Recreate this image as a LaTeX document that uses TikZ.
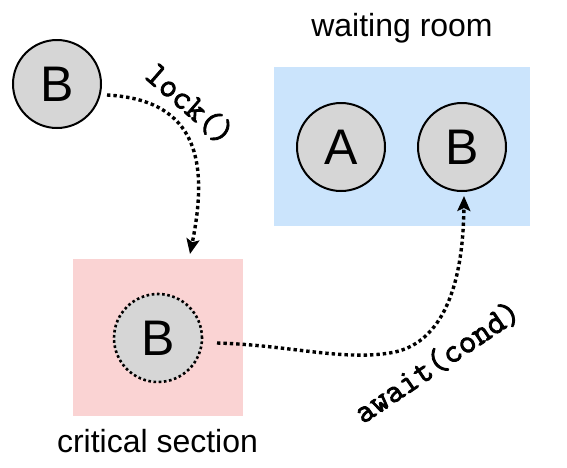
\documentclass[tikz,border=0pt]{standalone}
\usepackage{fontspec}
\setmainfont{Liberation Sans}
\newfontfamily\codefont{Latin Modern Mono}[FakeBold=2.5]
\usetikzlibrary{arrows.meta}
\definecolor{circfill}{RGB}{214,214,214}
\definecolor{waitblue}{RGB}{203,228,252}
\definecolor{critpink}{RGB}{250,211,211}
\begin{document}
\begin{tikzpicture}[x=1pt,y=-1pt,
  proc/.style={circle,draw=black,line width=2pt,fill=circfill,minimum size=88pt,inner sep=0pt,font=\fontsize{50}{50}\selectfont},
  dottedproc/.style={proc,dash pattern=on 2.6pt off 2.6pt,line width=2.6pt},
  room/.style={draw=none,inner sep=0pt,minimum width=#1},
  roomlabel/.style={anchor=base,font=\fontsize{32}{32}\selectfont},
  codelabel/.style={inner sep=0pt,font=\fontsize{34}{34}\selectfont\codefont\bfseries},
  flow/.style={line width=3.4pt,dash pattern=on 3.4pt off 3pt,
    -{Stealth[length=15pt,width=13pt,inset=3pt]}}
]
\useasboundingbox (0,0) rectangle (567,467);
% rooms
\node[room=256pt,minimum height=159pt,fill=waitblue] (wroom) at (402,146.5) {};
\node[room=170pt,minimum height=157pt,fill=critpink] (croom) at (158,337.5) {};
\node[roomlabel] (wlabel) at (402,36) {waiting room};
\node[roomlabel] (clabel) at (157.5,452) {critical section};
% processes
\node[proc] (b1) at (57,84) {B};
\node[proc] (a) at (341,147) {A};
\node[proc] (b2) at (462,147) {B};
\node[dottedproc] (b3) at (158,338) {B};
% connector ends
\coordinate (s1) at (107,95);
\coordinate (e1) at (190,254);
\coordinate (s2) at (217,343);
\coordinate (e2) at (464,196);
\draw[flow] (s1) .. controls (200,100) and (208,165) .. (e1);
\draw[flow] (s2) .. controls (290,345) and (345,362) .. (395,352)
  .. controls (435,343) and (463,300) .. (e2);
% labels
\node[codelabel,rotate=-41] (lock) at (190,104) {lock()};
\node[codelabel,rotate=34] (await) at (437,362) {await(cond)};
\end{tikzpicture}
\end{document}
